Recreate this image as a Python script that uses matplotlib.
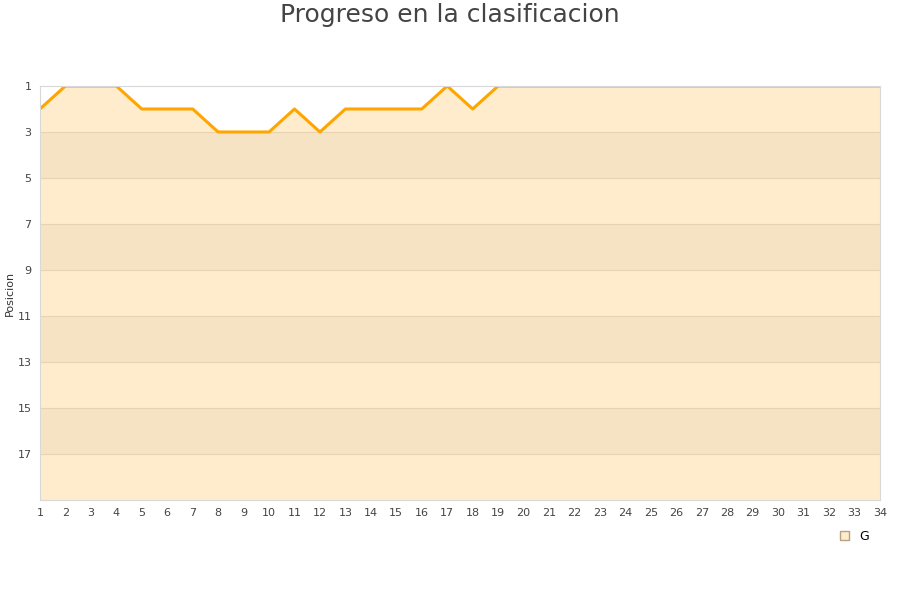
import matplotlib.pyplot as plt
from matplotlib.patches import Patch

# Jornadas and league position
jornadas = list(range(1, 35))
posiciones = [2, 1, 1, 1, 2, 2, 2, 3, 3, 3, 2, 3, 2, 2, 2, 2, 1, 2, 1,
              1, 1, 1, 1, 1, 1, 1, 1, 1, 1, 1, 1, 1, 1, 1]
y_ticks = [1, 3, 5, 7, 9, 11, 13, 15, 17]
bandas = [(3, 5), (7, 9), (11, 13), (15, 17)]

fig = plt.figure(figsize=(9, 6), dpi=100)
ax = fig.add_axes([0.0444, 0.1667, 0.9333, 0.69])

ax.fill_between(jornadas, posiciones, 19, color='#FFECCC', linewidth=0, zorder=1)
for lo, hi in bandas:
    ax.axhspan(lo, hi, color='#F6E3C3', linewidth=0, zorder=1.5)
for t in y_ticks[1:]:
    ax.axhline(t, color='#E6D3B3', linewidth=0.8, zorder=1.6)

ax.plot(jornadas, posiciones, color='#FFA500', linewidth=2.2, zorder=3)

ax.set_xlim(1, 34)
ax.set_ylim(19, 1)
ax.set_xticks(jornadas)
ax.set_yticks(y_ticks)
ax.tick_params(axis='both', length=0, labelsize=8, colors='#444444', pad=6)
for s in ax.spines.values():
    s.set_color('#D8D8D8')
    s.set_zorder(4)
ax.set_ylabel("Posicion", fontsize=8, color='#333333')
ax.yaxis.set_label_coords(-0.03, 0.5)

fig.suptitle("Progreso en la clasificacion", fontsize=18, color='#444444', y=0.995)

ax.legend(handles=[Patch(facecolor='#FFECCC', edgecolor='#B8A080', label='G')],
          loc='upper right', bbox_to_anchor=(1.0, -0.045), frameon=False,
          fontsize=9, handlelength=0.7, handleheight=0.7)

fig.savefig("out.png")
